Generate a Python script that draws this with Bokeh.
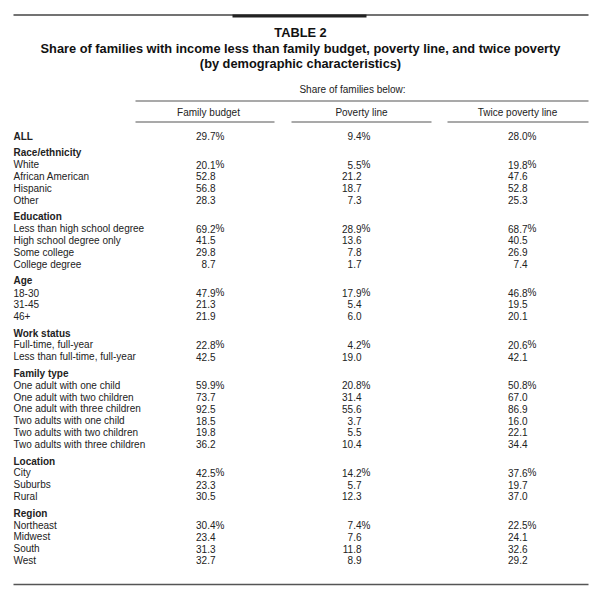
from bokeh.plotting import figure
from bokeh.models import ColumnDataSource, Range1d
from bokeh.embed import file_html
from bokeh.resources import INLINE
from bokeh.core.properties import value

# ---------------- data ----------------
title_lines = ["TABLE 2",
               "Share of families with income less than family budget, poverty line, and twice poverty",
               "(by demographic characteristics)"]
spanner = "Share of families below:"
columns = ["Family budget", "Poverty line", "Twice poverty line"]

all_label = "ALL"
all_values = [29.7, 9.4, 28.0]

sections = ["Race/ethnicity", "Education", "Age", "Work status", "Family type", "Location", "Region"]
row_labels = [
    ["White", "African American", "Hispanic", "Other"],
    ["Less than high school degree", "High school degree only", "Some college", "College degree"],
    ["18-30", "31-45", "46+"],
    ["Full-time, full-year", "Less than full-time, full-year"],
    ["One adult with one child", "One adult with two children", "One adult with three children",
     "Two adults with one child", "Two adults with two children", "Two adults with three children"],
    ["City", "Suburbs", "Rural"],
    ["Northeast", "Midwest", "South", "West"],
]
family_budget = [
    [20.1, 52.8, 56.8, 28.3],
    [69.2, 41.5, 29.8, 8.7],
    [47.9, 21.3, 21.9],
    [22.8, 42.5],
    [59.9, 73.7, 92.5, 18.5, 19.8, 36.2],
    [42.5, 23.3, 30.5],
    [30.4, 23.4, 31.3, 32.7],
]
poverty_line = [
    [5.5, 21.2, 18.7, 7.3],
    [28.9, 13.6, 7.8, 1.7],
    [17.9, 5.4, 6.0],
    [4.2, 19.0],
    [20.8, 31.4, 55.6, 3.7, 5.5, 10.4],
    [14.2, 5.7, 12.3],
    [7.4, 7.6, 11.8, 8.9],
]
twice_poverty = [
    [19.8, 47.6, 52.8, 25.3],
    [68.7, 40.5, 26.9, 7.4],
    [46.8, 19.5, 20.1],
    [20.6, 42.1],
    [50.8, 67.0, 86.9, 16.0, 22.1, 34.4],
    [37.6, 19.7, 37.0],
    [22.5, 24.1, 32.6, 29.2],
]

# ---------------- layout ----------------
W, H = 592, 593
FONT = "Liberation Sans"
p = figure(width=W, height=H, output_backend="svg", toolbar_location=None,
           x_range=Range1d(0, W), y_range=Range1d(H, 0),
           min_border=0, outline_line_color=None)
p.axis.visible = False
p.grid.visible = False

LABEL_X = 13
NUM_X = [215, 361, 527]
HEAD_X = [208, 361, 517]
COL_SPANS = [(135, 274), (291, 431), (447, 588)]
ROW_H = 11.8
SEC_GAP = 16.8

# rules
p.segment(x0=[13], y0=[14.5], x1=[588], y1=[14.5], line_color="#444444", line_width=1.3)
p.segment(x0=[232], y0=[15.5], x1=[366], y1=[15.5], line_color="#222222", line_width=3)
p.segment(x0=[135], y0=[100.5], x1=[588], y1=[100.5], line_color="#555555", line_width=1.2)
p.segment(x0=[s[0] for s in COL_SPANS], y0=[121.5] * 3, x1=[s[1] for s in COL_SPANS],
          y1=[121.5] * 3, line_color="#555555", line_width=1.2)

# titles
p.text(x=[300, 300, 300], y=[32, 48, 63], text=title_lines, text_font=value(FONT),
       text_font_size="12.8px", text_font_style="bold", text_align="center",
       text_baseline="middle", text_color="#111111")
p.text(x=[352], y=[89], text=[spanner], text_font=value(FONT), text_font_size="10px",
       text_align="center", text_baseline="middle", text_color="#222222")
p.text(x=HEAD_X, y=[112] * 3, text=columns, text_font=value(FONT), text_font_size="10px",
       text_align="center", text_baseline="middle", text_color="#222222")

# body rows
lab_x, lab_y, lab_t, lab_b = [], [], [], []
num_x, num_y, num_t = [], [], []
pct_x, pct_y = [], []

y = 135.5
lab_x.append(LABEL_X); lab_y.append(y); lab_t.append(all_label); lab_b.append("bold")
for c, v in enumerate(all_values):
    num_x.append(NUM_X[c]); num_y.append(y); num_t.append(f"{v:.1f}")
    pct_x.append(NUM_X[c]); pct_y.append(y)

for si, sec in enumerate(sections):
    y += SEC_GAP
    lab_x.append(LABEL_X); lab_y.append(y); lab_t.append(sec); lab_b.append("bold")
    cols = [family_budget[si], poverty_line[si], twice_poverty[si]]
    for ri, lab in enumerate(row_labels[si]):
        y += ROW_H
        lab_x.append(LABEL_X); lab_y.append(y); lab_t.append(lab); lab_b.append("normal")
        for c in range(3):
            num_x.append(NUM_X[c]); num_y.append(y); num_t.append(f"{cols[c][ri]:.1f}")
            if ri == 0:
                pct_x.append(NUM_X[c]); pct_y.append(y)

bottom_y = 584
p.segment(x0=[13], y0=[bottom_y], x1=[588], y1=[bottom_y], line_color="#555555", line_width=1.3)

src_lab = ColumnDataSource(dict(x=lab_x, y=lab_y, t=lab_t, b=lab_b))
p.text(x="x", y="y", text="t", text_font_style="b", source=src_lab, text_font=value(FONT),
       text_font_size="10px", text_align="left", text_baseline="middle", text_color="#222222")
src_num = ColumnDataSource(dict(x=num_x, y=num_y, t=num_t))
p.text(x="x", y="y", text="t", source=src_num, text_font=value(FONT),
       text_font_size="10px", text_align="right", text_baseline="middle", text_color="#222222")
src_pct = ColumnDataSource(dict(x=pct_x, y=pct_y, t=["%"] * len(pct_x)))
p.text(x="x", y="y", text="t", source=src_pct, text_font=value(FONT),
       text_font_size="10px", text_align="left", text_baseline="middle", text_color="#222222")

open("out.html", "w").write(file_html(p, INLINE))
